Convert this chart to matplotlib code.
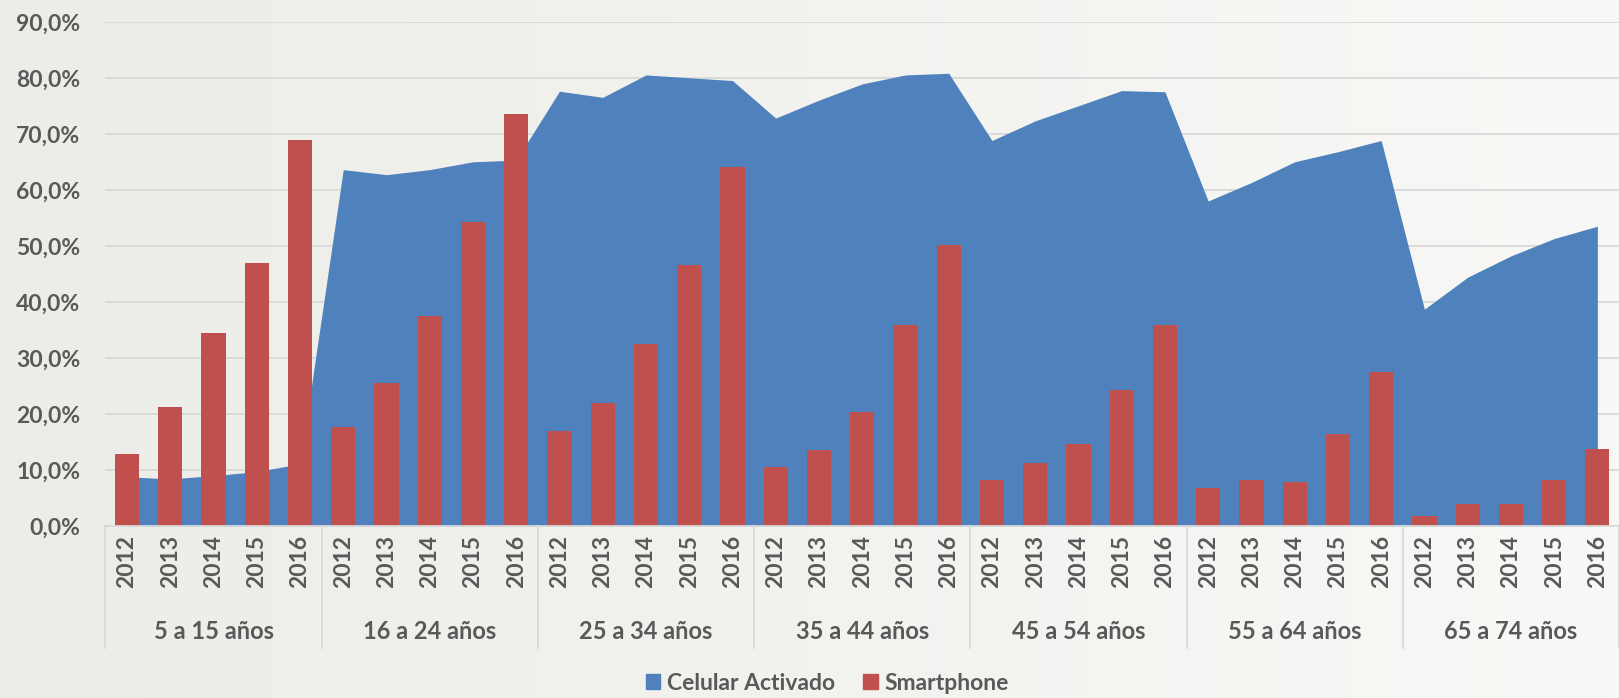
import numpy as np
import matplotlib.pyplot as plt
from matplotlib.patches import Patch

grupos = ['5 a 15 años', '16 a 24 años', '25 a 34 años', '35 a 44 años',
          '45 a 54 años', '55 a 64 años', '65 a 74 años']
anios = ['2012', '2013', '2014', '2015', '2016']

celular = [8.8, 8.4, 9.0, 9.7, 11.1,
           63.6, 62.7, 63.6, 65.0, 65.3,
           77.6, 76.5, 80.5, 80.0, 79.5,
           72.8, 76.0, 78.9, 80.5, 80.8,
           68.8, 72.3, 75.0, 77.7, 77.5,
           58.0, 61.3, 65.0, 66.8, 68.8,
           38.7, 44.4, 48.2, 51.3, 53.5]

smartphone = [12.8, 21.3, 34.5, 47.0, 68.8,
              17.7, 25.6, 37.4, 54.3, 73.6,
              17.0, 21.9, 32.5, 46.6, 64.0,
              10.6, 13.5, 20.4, 35.8, 50.2,
              8.2, 11.3, 14.7, 24.2, 35.9,
              6.7, 8.2, 7.8, 16.4, 27.5,
              1.7, 3.9, 4.0, 8.2, 13.8]

plt.rcParams['font.family'] = ['Lato', 'DejaVu Sans']
gris = '#595959'
linea = '#D9D9D9'
azul = '#4F81BD'
rojo = '#C0504D'

fig = plt.figure(figsize=(16.19, 6.98), dpi=100)

# fondo degradado
bg = fig.add_axes([0, 0, 1, 1], zorder=-5)
grad = np.linspace(0, 1, 256).reshape(1, -1)
c0 = np.array([236, 236, 232]) / 255
c1 = np.array([248, 248, 246]) / 255
img = c0[None, None, :] * (1 - grad[..., None]) + c1[None, None, :] * grad[..., None]
bg.imshow(img, aspect='auto', extent=[0, 1, 0, 1])
bg.axis('off')

ax = fig.add_axes([0.0651, 0.2464, 0.9349, 0.7225])
ax.patch.set_alpha(0)

x = np.arange(len(celular))
ax.fill_between(x, 0, celular, color=azul, linewidth=0, zorder=2, label='Celular Activado')
ax.bar(x, smartphone, width=0.56, color=rojo, zorder=3, label='Smartphone')

ax.set_xlim(-0.5, len(celular) - 0.5)
ax.set_ylim(0, 90)
ax.set_yticks(np.arange(0, 91, 10))
ax.set_yticklabels([f'{v:.1f}%'.replace('.', ',') for v in np.arange(0, 91, 10)],
                   fontsize=16.5, fontweight='bold', color=gris)
ax.tick_params(axis='y', length=0, pad=18)
ax.yaxis.grid(True, color=linea, linewidth=1.3, zorder=0)
ax.set_axisbelow(True)
ax.set_xticks([])
for s in ['top', 'right', 'left']:
    ax.spines[s].set_visible(False)
ax.spines['bottom'].set_color(linea)
ax.spines['bottom'].set_linewidth(1.3)
ax.spines['bottom'].set_zorder(4)

# eje de categorias en dos niveles
tr = ax.get_xaxis_transform()
for i in range(len(celular)):
    ax.text(i, -0.07, anios[i % 5], transform=tr, rotation=90, ha='center', va='center',
            fontsize=16.5, fontweight='bold', color=gris)
for g, nombre in enumerate(grupos):
    ax.text(g * 5 + 2, -0.21, nombre, transform=tr, ha='center', va='center',
            fontsize=17, fontweight='bold', color=gris)
for g in range(len(grupos) + 1):
    ax.plot([g * 5 - 0.5, g * 5 - 0.5], [0, -0.242], transform=tr, color=linea,
            linewidth=1.3, clip_on=False)

handles = [Patch(color=azul, label='Celular Activado'), Patch(color=rojo, label='Smartphone')]
fig.legend(handles=handles, loc='center', bbox_to_anchor=(0.511, 0.021), ncol=2, frameon=False,
           prop={'size': 16.5, 'weight': 'bold'}, labelcolor=gris, handlelength=0.65,
           handleheight=0.65, handletextpad=0.3, columnspacing=1.2)

fig.savefig('out.png', dpi=100)
